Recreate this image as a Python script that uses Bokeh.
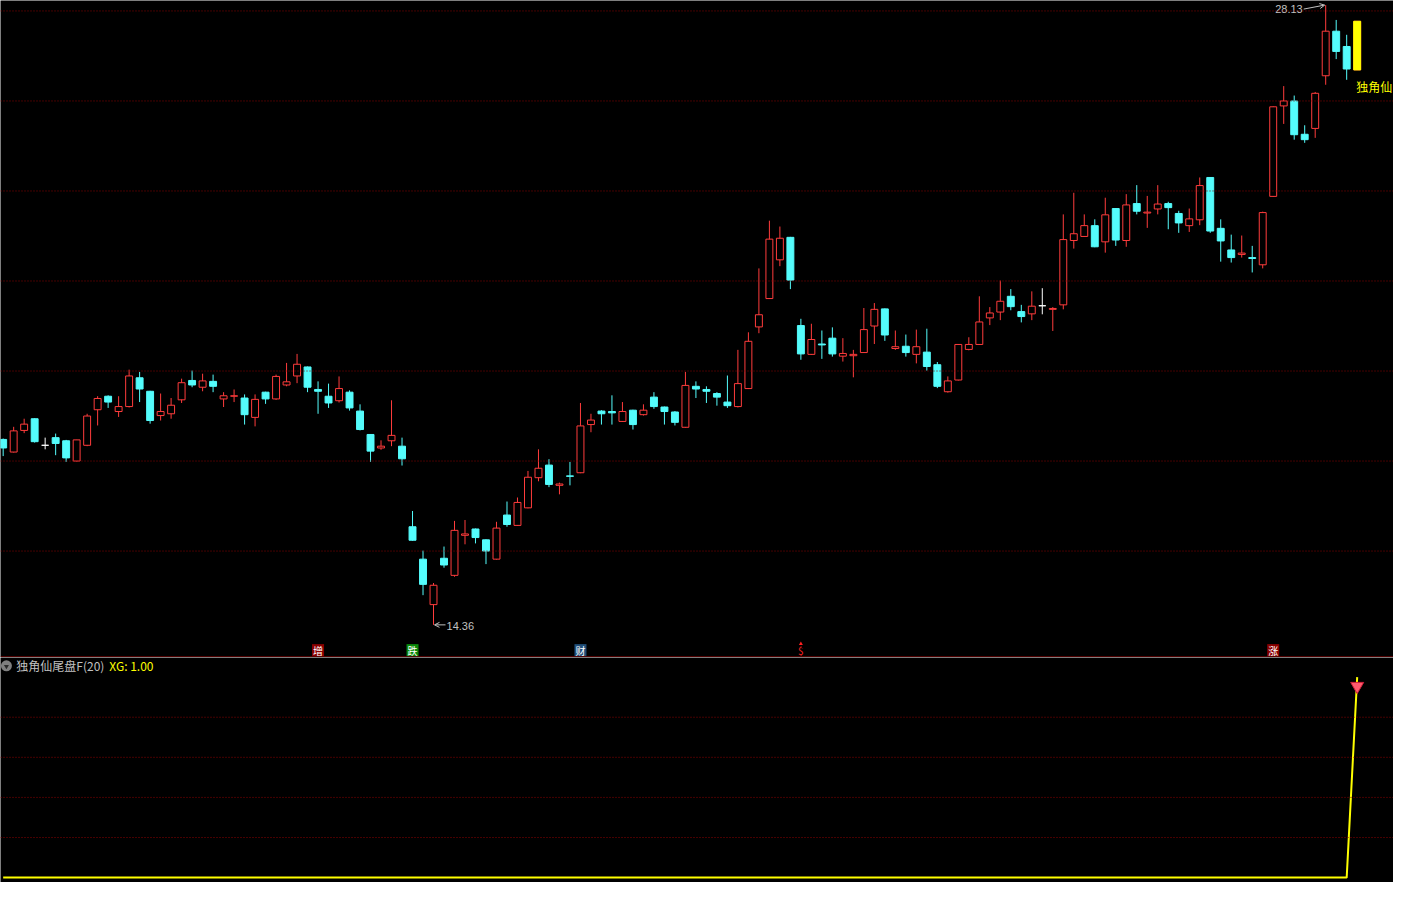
import numpy as np
from bokeh.plotting import figure
from bokeh.layouts import column
from bokeh.models import Span, Arrow, OpenHead, ColumnDataSource, Range1d
from bokeh.core.properties import value
from bokeh.embed import file_html
from bokeh.resources import INLINE

# ---------------- data ----------------
opens = [
    18.48, 18.20, 18.68, 18.94, 18.35, 18.52, 18.45, 18.00, 18.35, 19.14,
    19.44, 19.10, 19.21, 19.85, 19.55, 19.01, 19.05, 19.36, 19.79, 19.64,
    19.77, 19.38, 19.44, 19.40, 18.97, 19.53, 19.38, 19.69, 19.89, 20.09,
    19.59, 19.44, 19.34, 19.53, 19.11, 18.59, 18.29, 18.45, 18.33, 16.54,
    15.82, 14.81, 15.84, 15.46, 16.35, 16.49, 16.25, 15.82, 16.80, 16.57,
    16.96, 17.63, 17.91, 17.46, 17.67, 17.74, 18.81, 19.11, 19.10, 18.88,
    19.13, 19.03, 19.42, 19.20, 19.09, 18.75, 19.66, 19.59, 19.50, 19.31,
    19.21, 19.61, 20.98, 21.61, 22.47, 22.97, 21.01, 20.37, 20.60, 20.73,
    20.33, 20.34, 20.41, 21.00, 21.38, 20.50, 20.55, 20.37, 20.42, 20.14,
    19.54, 19.80, 20.48, 20.59, 21.18, 21.31, 21.66, 21.32, 21.27, 21.45,
    21.37, 21.47, 22.90, 22.99, 23.23, 22.87, 23.61, 22.90, 23.72, 23.51,
    23.60, 23.72, 23.50, 23.23, 23.36, 24.30, 23.17, 22.69, 22.59, 22.52,
    22.36, 23.88, 25.89, 26.00, 25.26, 25.39, 26.56, 27.55, 27.21, 26.69,
]
highs = [
    18.50, 18.76, 18.94, 18.95, 18.52, 18.61, 18.47, 18.47, 19.05, 19.44,
    19.46, 19.44, 20.03, 19.98, 19.56, 19.50, 19.40, 19.83, 20.01, 19.94,
    19.92, 19.53, 19.59, 19.48, 19.48, 19.54, 19.92, 20.18, 20.38, 20.10,
    19.77, 19.72, 19.88, 19.57, 19.26, 18.60, 18.46, 19.35, 18.52, 16.89,
    16.01, 15.29, 16.10, 16.67, 16.69, 16.50, 16.26, 16.65, 17.10, 17.19,
    17.78, 18.26, 18.04, 17.52, 17.98, 19.29, 19.05, 19.13, 19.46, 19.31,
    19.14, 19.26, 19.53, 19.21, 19.11, 19.98, 19.77, 19.66, 19.53, 19.90,
    20.47, 20.86, 22.28, 23.34, 23.21, 22.98, 21.16, 21.05, 20.90, 20.97,
    20.73, 20.47, 21.40, 21.51, 21.39, 20.90, 20.81, 20.92, 20.94, 20.20,
    19.88, 20.60, 20.75, 21.66, 21.42, 22.01, 21.82, 21.47, 21.77, 21.84,
    21.42, 23.48, 23.96, 23.48, 23.37, 23.85, 23.62, 23.93, 24.13, 23.89,
    24.13, 23.76, 23.56, 23.61, 24.30, 24.31, 23.37, 23.03, 23.01, 22.78,
    23.54, 25.88, 26.33, 26.12, 25.46, 26.20, 28.13, 27.80, 27.47, 27.77,
]
lows = [
    18.11, 18.19, 18.62, 18.41, 18.26, 18.13, 17.98, 17.99, 18.33, 18.79,
    19.18, 18.98, 19.19, 19.31, 18.83, 18.90, 18.94, 19.29, 19.64, 19.55,
    19.53, 19.20, 19.31, 18.81, 18.77, 19.27, 19.36, 19.66, 19.73, 19.53,
    19.05, 19.18, 19.30, 19.12, 18.68, 17.98, 18.25, 18.33, 17.90, 16.23,
    15.02, 14.36, 15.63, 15.43, 16.15, 16.17, 15.71, 15.81, 16.54, 16.56,
    16.95, 17.55, 17.42, 17.26, 17.46, 17.73, 18.64, 18.81, 18.81, 18.87,
    18.70, 19.01, 19.16, 18.81, 18.79, 18.74, 19.40, 19.29, 19.23, 19.18,
    19.19, 19.60, 20.84, 21.60, 22.33, 21.82, 20.25, 20.36, 20.27, 20.32,
    20.21, 19.86, 20.40, 20.60, 20.67, 20.47, 20.32, 20.17, 20.01, 19.62,
    19.52, 19.79, 20.46, 20.58, 21.02, 21.13, 21.35, 21.08, 21.13, 21.26,
    20.89, 21.37, 22.72, 22.98, 22.75, 22.63, 22.78, 22.76, 23.48, 23.18,
    23.48, 23.15, 23.07, 23.09, 23.24, 23.07, 22.43, 22.41, 22.52, 22.19,
    22.28, 23.87, 25.49, 25.14, 25.07, 25.18, 26.36, 26.93, 26.47, 26.69,
]
closes = [
    18.29, 18.67, 18.82, 18.43, 18.35, 18.39, 18.07, 18.47, 19.00, 19.39,
    19.31, 19.21, 19.89, 19.60, 18.90, 19.10, 19.24, 19.74, 19.69, 19.78,
    19.66, 19.45, 19.45, 19.03, 19.37, 19.38, 19.88, 19.76, 20.15, 19.64,
    19.55, 19.29, 19.61, 19.18, 18.70, 18.22, 18.33, 18.57, 18.05, 16.24,
    15.26, 15.24, 15.69, 16.46, 16.38, 16.30, 16.00, 16.51, 16.59, 17.08,
    17.64, 17.84, 17.48, 17.49, 17.66, 18.78, 18.91, 19.05, 19.07, 19.10,
    18.81, 19.13, 19.21, 19.10, 18.86, 19.68, 19.60, 19.55, 19.42, 19.23,
    19.72, 20.66, 21.25, 22.93, 22.95, 22.02, 20.38, 20.70, 20.58, 20.38,
    20.39, 20.37, 20.92, 21.37, 20.80, 20.54, 20.41, 20.54, 20.10, 19.66,
    19.78, 20.59, 20.59, 21.09, 21.29, 21.55, 21.43, 21.21, 21.44, 21.45,
    21.39, 22.92, 23.05, 23.23, 22.76, 23.47, 22.91, 23.69, 23.55, 23.53,
    23.71, 23.63, 23.29, 23.38, 24.12, 23.11, 22.89, 22.52, 22.62, 22.50,
    23.52, 25.87, 26.00, 25.25, 25.14, 26.17, 27.55, 27.10, 26.71, 27.77,
]
# indicator 独角仙尾盘F(20): XG
xg = [
    0, 0, 0, 0, 0, 0, 0, 0, 0, 0,
    0, 0, 0, 0, 0, 0, 0, 0, 0, 0,
    0, 0, 0, 0, 0, 0, 0, 0, 0, 0,
    0, 0, 0, 0, 0, 0, 0, 0, 0, 0,
    0, 0, 0, 0, 0, 0, 0, 0, 0, 0,
    0, 0, 0, 0, 0, 0, 0, 0, 0, 0,
    0, 0, 0, 0, 0, 0, 0, 0, 0, 0,
    0, 0, 0, 0, 0, 0, 0, 0, 0, 0,
    0, 0, 0, 0, 0, 0, 0, 0, 0, 0,
    0, 0, 0, 0, 0, 0, 0, 0, 0, 0,
    0, 0, 0, 0, 0, 0, 0, 0, 0, 0,
    0, 0, 0, 0, 0, 0, 0, 0, 0, 0,
    0, 0, 0, 0, 0, 0, 0, 0, 0, 1,
]
price_grid = [16, 18, 20, 22, 24, 26, 28]
ind_grid = [0.2, 0.4, 0.6, 0.8]
tag_idx = [30, 39, 55, 76, 121]
tag_text = ["增", "跌", "财", "$", "涨"]
ind_name = "独角仙尾盘F(20)"
signal_name = "独角仙"

# ---------------- layout constants ----------------
REF_W, REF_H, REF_SPLIT = 1409, 898, 669
W, H1, H2 = 1393, 657, 225
XR0, XR1 = -0.254, 132.46
YT, YB = 28.232, 13.635
LT, LB = 1.098, -0.0245


def mx(px):
    return XR0 + px / REF_W * (XR1 - XR0)


def my(py):
    return YT - py / REF_SPLIT * (YT - YB)


def ly(py):
    return LT - (py - REF_SPLIT) / (REF_H - REF_SPLIT) * (LT - LB)


def dxi(px):
    return px / W * (XR1 - XR0)


def dyp(px):
    return px / H1 * (YT - YB)


def dyl(px):
    return px / H2 * (LT - LB)


RED = "#ff3c3c"
CYAN = "#54fcfc"
WHITE = "#ffffff"
YEL = "#ffff00"
GRID = "#8c0000"
GREY = "#c0c0c0"
CJK = value("Noto Sans CJK SC")
NUM = value("Liberation Sans")

O = np.array(opens, dtype=float)
H = np.array(highs, dtype=float)
L = np.array(lows, dtype=float)
C = np.array(closes, dtype=float)
n = len(O)
idx = np.arange(n)
col = [RED if c > o else (CYAN if c < o else WHITE) for o, c in zip(O, C)]
fill = ["#000000" if c > o else cc for o, c, cc in zip(O, C, col)]
src = ColumnDataSource(dict(x=idx, h=H, l=L, top=np.maximum(O, C),
                            bot=np.minimum(O, C), col=col, fill=fill))


def base_fig(h, yr):
    f = figure(width=W, height=h, x_range=Range1d(XR0, XR1), y_range=Range1d(*yr),
               x_axis_type=None, y_axis_type=None, toolbar_location=None,
               output_backend="svg", title=None, min_border=0,
               background_fill_color="#000000", border_fill_color="#000000",
               outline_line_color=None)
    return f


# ---------------- main candlestick panel ----------------
p1 = base_fig(H1, (YB, YT))
for v in price_grid:
    p1.add_layout(Span(location=v, dimension="width", line_color=GRID,
                       line_dash="1 2", line_width=1))
p1.add_layout(Span(location=my(668.5), dimension="width", line_color="#a00000", line_width=1))

p1.segment(x0="x", y0="l", x1="x", y1="h", line_color="col", line_width=1, source=src)
p1.vbar(x="x", top="top", bottom="bot", width=0.66, fill_color="fill",
        line_color="col", line_width=1, source=src)

sig = [i for i in range(n) if xg[i] >= 1]
p1.vbar(x=sig, top=[max(O[i], C[i]) for i in sig], bottom=[min(O[i], C[i]) for i in sig],
        width=0.66, fill_color=YEL, line_color=YEL, line_width=1)
p1.text(x=sig, y=[min(O[i], C[i]) for i in sig], text=[signal_name] * len(sig),
        x_offset=-1, y_offset=17, text_align="left", text_baseline="middle",
        text_color=YEL, text_font=CJK, text_font_size=value("12px"))

# high / low markers
hi_i = int(np.argmax(H))
lo_i = int(np.argmin(L))
p1.text(x=[hi_i], y=[H[hi_i]], text=[f"{H[hi_i]:.2f}"], x_offset=-23, y_offset=4,
        text_align="right", text_baseline="middle", text_color=GREY,
        text_font=NUM, text_font_size=value("11px"))
p1.add_layout(Arrow(end=OpenHead(size=5, line_color=GREY, line_width=1),
                    x_start=hi_i - dxi(22), y_start=H[hi_i] - dyp(4),
                    x_end=hi_i - dxi(1), y_end=H[hi_i], line_color=GREY, line_width=1))
p1.text(x=[lo_i], y=[L[lo_i]], text=[f"{L[lo_i]:.2f}"], x_offset=13, y_offset=1,
        text_align="left", text_baseline="middle", text_color=GREY,
        text_font=NUM, text_font_size=value("11px"))
p1.add_layout(Arrow(end=OpenHead(size=5, line_color=GREY, line_width=1),
                    x_start=lo_i + dxi(12), y_start=L[lo_i],
                    x_end=lo_i + dxi(1), y_end=L[lo_i], line_color=GREY, line_width=1))

# event tags along the bottom
tag_bg = ["#8b0000", "#0a8a0a", "#1f4e79", "#000000", "#8b0000"]
tag_fg = ["#ffffff", "#ffffff", "#ffffff", "#ff2020", "#ffffff"]
ty = my(661.5)
p1.rect(x=tag_idx, y=[ty] * len(tag_idx), width=12, height=12, width_units="screen",
        height_units="screen", fill_color=tag_bg, line_color=None)
p1.text(x=tag_idx, y=[ty] * len(tag_idx), text=tag_text, text_align="center",
        text_baseline="middle", text_color=tag_fg, text_font=CJK,
        text_font_size=value("10px"))
p1.scatter(x=[tag_idx[3]], y=[my(655)], marker="triangle", size=4,
           fill_color="#ff2020", line_color=None)

# ---------------- indicator panel ----------------
p2 = base_fig(H2, (LB, LT))
for v in ind_grid:
    p2.add_layout(Span(location=v, dimension="width", line_color=GRID,
                       line_dash="1 2", line_width=1))
p2.line(x=idx, y=xg, line_color=YEL, line_width=2)
p2.scatter(x=sig, y=[xg[i] - dyl(9) for i in sig], marker="inverted_triangle", size=13,
           fill_color="#ff5a6e", line_color="#d0203a", line_width=1)

p2.scatter(x=[mx(6)], y=[ly(677.5)], marker="circle", size=11,
           fill_color="#7f7f7f", line_color=None)
p2.scatter(x=[mx(6)], y=[ly(678)], marker="inverted_triangle", size=5,
           fill_color="#2a2a2a", line_color=None)
p2.text(x=[mx(16)], y=[ly(677.5)], text=[ind_name], text_align="left",
        text_baseline="middle", text_color=GREY, text_font=CJK,
        text_font_size=value("12px"))
p2.text(x=[mx(110)], y=[ly(677.5)], text=[f"XG: {xg[-1]:.2f}"], text_align="left",
        text_baseline="middle", text_color=YEL, text_font=CJK,
        text_font_size=value("12px"))

p = column(p1, p2, spacing=0)
open("out.html", "w").write(file_html(p, INLINE))
